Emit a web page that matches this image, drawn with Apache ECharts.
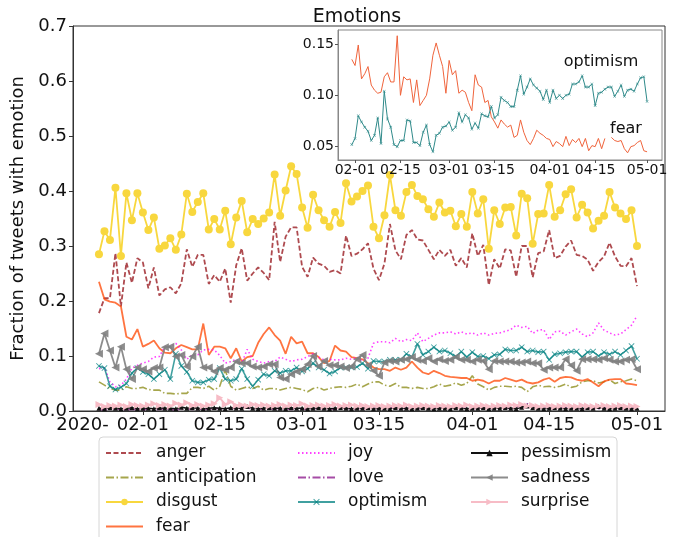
<!DOCTYPE html>
<html>
<head>
<meta charset="utf-8">
<script src="https://cdn.jsdelivr.net/npm/echarts@6/dist/echarts.min.js"></script>
<style>
html,body{margin:0;padding:0;background:#fff;}
#chart{width:678px;height:537px;}
</style>
</head>
<body>
<div id="chart"></div>
<script>
// Main chart: daily values from 2020-01-24 (day-of-year 23) to 2020-05-01
const mainStartDay = 23;
// Inset: daily values from 2020-01-31 (day-of-year 30) to 2020-05-01
const insetStartDay = 30;

const tickDays = [31, 45, 60, 74, 91, 105, 121];
const tickLabels = ['02-01', '02-15', '03-01', '03-15', '04-01', '04-15', '05-01'];
const offsetLabelDay = 20;
const offsetLabel = '2020-';

const anger = [0.178,0.205,0.205,0.287,0.190,0.270,0.233,0.278,0.270,0.223,
0.261,0.210,0.221,0.225,0.214,0.232,0.294,0.262,0.284,0.284,
0.231,0.247,0.235,0.259,0.197,0.265,0.296,0.237,0.250,0.261,
0.251,0.238,0.344,0.271,0.317,0.334,0.334,0.262,0.244,0.279,
0.268,0.264,0.253,0.256,0.250,0.319,0.282,0.286,0.294,0.305,
0.259,0.238,0.268,0.340,0.292,0.276,0.320,0.329,0.312,0.310,
0.293,0.276,0.293,0.282,0.293,0.264,0.278,0.261,0.323,0.282,
0.302,0.229,0.276,0.259,0.294,0.292,0.244,0.300,0.300,0.243,
0.287,0.290,0.329,0.278,0.282,0.299,0.310,0.284,0.282,0.275,
0.255,0.271,0.281,0.306,0.281,0.264,0.263,0.278,0.227];

const anticipation = [0.053,0.047,0.041,0.038,0.038,0.044,0.041,0.041,0.043,0.039,
0.038,0.038,0.032,0.032,0.031,0.032,0.032,0.043,0.043,0.041,
0.045,0.038,0.045,0.074,0.045,0.038,0.041,0.044,0.041,0.045,
0.038,0.041,0.041,0.038,0.041,0.043,0.041,0.039,0.035,0.041,
0.043,0.038,0.041,0.043,0.044,0.043,0.045,0.049,0.044,0.049,
0.053,0.053,0.047,0.045,0.050,0.043,0.043,0.041,0.043,0.041,
0.041,0.044,0.049,0.045,0.047,0.051,0.047,0.050,0.064,0.049,
0.044,0.038,0.043,0.045,0.045,0.044,0.045,0.043,0.035,0.044,
0.047,0.044,0.045,0.043,0.045,0.049,0.043,0.045,0.053,0.055,
0.055,0.051,0.053,0.057,0.050,0.053,0.055,0.058,0.055];

const disgust = [0.285,0.327,0.311,0.406,0.282,0.396,0.347,0.396,0.361,0.329,
0.352,0.295,0.301,0.314,0.293,0.321,0.395,0.362,0.380,0.396,
0.330,0.349,0.330,0.364,0.303,0.352,0.382,0.325,0.349,0.340,
0.350,0.361,0.430,0.355,0.401,0.445,0.431,0.370,0.333,0.393,
0.365,0.347,0.335,0.362,0.342,0.414,0.381,0.390,0.400,0.410,
0.335,0.314,0.356,0.429,0.365,0.355,0.398,0.411,0.391,0.385,
0.367,0.353,0.379,0.361,0.364,0.336,0.358,0.335,0.398,0.359,
0.385,0.295,0.365,0.340,0.370,0.371,0.319,0.395,0.387,0.304,
0.358,0.359,0.411,0.353,0.365,0.394,0.403,0.352,0.375,0.361,
0.332,0.346,0.355,0.398,0.370,0.359,0.349,0.365,0.300];

const fear = [0.235,0.203,0.199,0.197,0.190,0.135,0.130,0.149,0.117,0.122,
0.128,0.114,0.106,0.105,0.114,0.120,0.116,0.112,0.112,0.159,
0.102,0.117,0.117,0.114,0.096,0.114,0.090,0.098,0.100,0.124,
0.140,0.152,0.138,0.128,0.104,0.135,0.123,0.126,0.105,0.105,
0.098,0.087,0.091,0.119,0.110,0.108,0.098,0.096,0.094,0.087,
0.079,0.076,0.076,0.073,0.079,0.075,0.079,0.090,0.079,0.070,
0.067,0.073,0.069,0.064,0.062,0.061,0.060,0.060,0.055,0.057,
0.055,0.050,0.055,0.055,0.060,0.057,0.054,0.057,0.052,0.050,
0.052,0.057,0.060,0.053,0.060,0.062,0.061,0.057,0.055,0.058,
0.052,0.045,0.054,0.057,0.058,0.058,0.050,0.049,0.047];

const joy = [0.077,0.079,0.053,0.044,0.047,0.058,0.078,0.083,0.087,0.090,
0.098,0.099,0.117,0.117,0.123,0.111,0.094,0.102,0.102,0.111,
0.112,0.111,0.101,0.087,0.090,0.094,0.087,0.112,0.094,0.090,
0.087,0.090,0.090,0.098,0.094,0.090,0.093,0.094,0.099,0.104,
0.098,0.093,0.094,0.093,0.093,0.096,0.094,0.098,0.091,0.096,
0.123,0.126,0.126,0.124,0.132,0.126,0.130,0.128,0.142,0.126,
0.132,0.138,0.142,0.142,0.144,0.140,0.144,0.140,0.142,0.138,
0.142,0.138,0.141,0.142,0.145,0.148,0.156,0.152,0.154,0.141,
0.147,0.148,0.130,0.144,0.145,0.138,0.144,0.149,0.140,0.135,
0.142,0.160,0.147,0.142,0.138,0.140,0.148,0.156,0.173];

const love = [0.003,0.002,0.003,0.004,0.003,0.002,0.003,0.003,0.002,0.004,
0.003,0.003,0.004,0.003,0.002,0.003,0.004,0.003,0.003,0.004,
0.003,0.005,0.004,0.003,0.004,0.005,0.009,0.005,0.004,0.003,
0.004,0.003,0.004,0.005,0.004,0.003,0.004,0.004,0.003,0.004,
0.005,0.004,0.004,0.003,0.004,0.005,0.004,0.004,0.005,0.004,
0.005,0.004,0.005,0.006,0.005,0.004,0.005,0.005,0.004,0.005,
0.004,0.005,0.006,0.005,0.005,0.004,0.005,0.005,0.004,0.005,
0.005,0.004,0.005,0.006,0.005,0.005,0.007,0.010,0.013,0.009,
0.006,0.005,0.005,0.004,0.005,0.006,0.005,0.005,0.004,0.005,
0.005,0.004,0.005,0.006,0.005,0.005,0.004,0.005,0.005];

const optimism = [0.082,0.078,0.045,0.039,0.043,0.050,0.069,0.078,0.071,0.067,
0.058,0.067,0.075,0.058,0.104,0.082,0.071,0.055,0.052,0.052,
0.057,0.058,0.078,0.058,0.055,0.058,0.077,0.058,0.045,0.057,
0.067,0.064,0.073,0.069,0.073,0.073,0.079,0.072,0.077,0.087,
0.079,0.075,0.068,0.072,0.079,0.079,0.079,0.080,0.087,0.077,
0.091,0.090,0.090,0.093,0.093,0.093,0.104,0.098,0.122,0.102,
0.108,0.116,0.108,0.110,0.105,0.099,0.108,0.098,0.107,0.099,
0.100,0.095,0.102,0.103,0.112,0.110,0.110,0.116,0.108,0.110,
0.107,0.108,0.093,0.103,0.105,0.107,0.108,0.108,0.098,0.107,
0.108,0.100,0.107,0.103,0.108,0.102,0.110,0.118,0.095];

const pessimism = [0.005,0.004,0.006,0.005,0.004,0.005,0.006,0.004,0.005,0.005,
0.004,0.006,0.005,0.005,0.004,0.007,0.005,0.006,0.005,0.004,
0.005,0.006,0.005,0.004,0.006,0.005,0.005,0.008,0.005,0.004,
0.005,0.006,0.005,0.005,0.004,0.006,0.005,0.005,0.004,0.005,
0.006,0.005,0.004,0.005,0.006,0.005,0.004,0.005,0.005,0.006,
0.004,0.005,0.005,0.004,0.006,0.005,0.005,0.004,0.005,0.006,
0.005,0.004,0.005,0.005,0.004,0.006,0.005,0.004,0.005,0.005,
0.006,0.004,0.005,0.005,0.006,0.005,0.004,0.007,0.009,0.006,
0.005,0.004,0.005,0.006,0.005,0.004,0.005,0.005,0.004,0.006,
0.005,0.008,0.005,0.004,0.005,0.006,0.005,0.004,0.005];

const sadness = [0.104,0.141,0.110,0.079,0.117,0.076,0.058,0.079,0.076,0.072,
0.078,0.079,0.116,0.117,0.099,0.102,0.081,0.099,0.117,0.079,
0.079,0.072,0.078,0.075,0.079,0.090,0.087,0.087,0.081,0.079,
0.081,0.085,0.085,0.061,0.058,0.067,0.072,0.076,0.085,0.100,
0.081,0.091,0.083,0.083,0.081,0.078,0.081,0.094,0.102,0.083,
0.073,0.064,0.088,0.091,0.090,0.093,0.094,0.098,0.093,0.091,
0.096,0.090,0.094,0.091,0.093,0.098,0.093,0.093,0.090,0.093,
0.091,0.076,0.091,0.090,0.090,0.090,0.088,0.088,0.090,0.087,
0.087,0.075,0.079,0.079,0.079,0.094,0.083,0.073,0.094,0.094,
0.094,0.093,0.096,0.093,0.090,0.090,0.093,0.094,0.076];

const surprise = [0.012,0.008,0.010,0.009,0.011,0.008,0.012,0.010,0.009,0.011,
0.013,0.010,0.012,0.009,0.014,0.011,0.015,0.010,0.012,0.009,
0.011,0.013,0.024,0.012,0.017,0.010,0.011,0.009,0.012,0.010,
0.011,0.009,0.010,0.012,0.009,0.011,0.010,0.013,0.009,0.010,
0.011,0.009,0.010,0.012,0.009,0.010,0.011,0.009,0.010,0.008,
0.009,0.010,0.008,0.009,0.010,0.009,0.011,0.008,0.009,0.010,
0.009,0.008,0.010,0.009,0.008,0.010,0.009,0.011,0.008,0.009,
0.010,0.008,0.009,0.010,0.009,0.011,0.010,0.012,0.009,0.010,
0.008,0.009,0.010,0.008,0.009,0.010,0.009,0.008,0.010,0.009,
0.008,0.009,0.010,0.008,0.009,0.010,0.008,0.009,0.008];

const insetFear = [0.135,0.129,0.149,0.116,0.121,0.128,0.110,0.105,0.102,0.103,
0.118,0.122,0.113,0.113,0.158,0.100,0.118,0.115,0.116,0.093,
0.115,0.090,0.095,0.100,0.116,0.139,0.151,0.139,0.128,0.102,
0.134,0.120,0.124,0.102,0.105,0.103,0.093,0.085,0.120,0.110,
0.108,0.093,0.095,0.079,0.074,0.068,0.076,0.072,0.069,0.071,
0.059,0.061,0.076,0.064,0.056,0.052,0.058,0.066,0.063,0.061,
0.058,0.057,0.050,0.055,0.053,0.050,0.060,0.051,0.057,0.054,
0.058,0.050,0.058,0.046,0.051,0.050,0.058,0.048,0.058,null,
0.059,0.056,0.055,0.056,0.048,0.044,0.050,0.051,0.054,0.056,
0.046,0.045];

const insetOptimism = [0.052,0.058,0.080,0.074,0.069,0.065,0.056,0.061,0.078,0.053,
0.104,0.077,0.069,0.052,0.050,0.056,0.056,0.076,0.075,0.054,
0.054,0.051,0.064,0.071,0.052,0.045,0.061,0.063,0.069,0.070,
0.074,0.066,0.069,0.083,0.074,0.081,0.078,0.067,0.073,0.068,
0.082,0.080,0.079,0.089,0.078,0.081,0.098,0.095,0.093,0.089,
0.089,0.105,0.119,0.101,0.108,0.116,0.110,0.107,0.104,0.096,
0.105,0.093,0.105,0.097,0.100,0.097,0.100,0.101,0.111,0.111,
0.113,0.119,0.108,0.108,0.111,0.090,0.102,0.103,0.106,0.108,
0.108,0.099,0.104,0.110,0.099,0.105,0.106,0.104,0.111,0.117,
0.118,0.094];

const insetYTicks = [0.05, 0.10, 0.15];

const legendCol1 = ['anger', 'anticipation', 'disgust', 'fear'];
const legendCol2 = ['joy', 'love', 'optimism'];
const legendCol3 = ['pessimism', 'sadness', 'surprise'];
const lineOnly = ['anger', 'anticipation', 'fear', 'joy', 'love'];

const FONT = 'DejaVu Sans';
const XMARK = 'path://M1,0L5,4L9,0L10,1L6,5L10,9L9,10L5,6L1,10L0,9L4,5L0,1Z';

function toXY(vals, start) { return vals.map((v, i) => [start + i, v]); }

const chart = echarts.init(document.getElementById('chart'), null, {renderer: 'canvas'});

function mainSeries(name, vals, color, opts) {
  return Object.assign({
    name: name, type: 'line', xAxisIndex: 0, yAxisIndex: 0,
    data: toXY(vals, mainStartDay),
    symbol: 'none', z: 2,
    lineStyle: {color: color, width: 1.8},
    itemStyle: {color: color},
    emphasis: {disabled: true}
  }, opts || {});
}

const labelMap = {};
tickDays.forEach((d, i) => { labelMap[d] = tickLabels[i]; });
labelMap[offsetLabelDay] = offsetLabel;

function legendCol(names, left) {
  return {
    orient: 'horizontal', left: left, top: 443, width: 50, padding: 0,
    itemWidth: 37, itemHeight: 8, itemGap: 4.5,
    textStyle: {fontSize: 17, color: '#111', lineHeight: 20, padding: [0, 0, 0, 8]},
    data: names.map(n => lineOnly.indexOf(n) >= 0 ? {name: n, itemStyle: {opacity: 0}} : {name: n}),
    z: 20
  };
}

const option = {
  animation: false,
  backgroundColor: '#fff',
  textStyle: {fontFamily: FONT},
  grid: [
    {left: 73, right: 13, top: 26, bottom: 126, show: true, borderColor: '#333', borderWidth: 1, backgroundColor: 'transparent', z: 0},
    {left: 338, right: 16, top: 30, bottom: 377, show: true, borderColor: '#888', borderWidth: 1, backgroundColor: '#fff', z: 5}
  ],
  xAxis: [
    {type: 'value', gridIndex: 0, min: 18.27, max: 126.1,
     splitLine: {show: false},
     axisLine: {onZero: false, lineStyle: {color: '#333'}},
     axisTick: {show: true, length: 4, lineStyle: {color: '#333'}, customValues: tickDays},
     axisLabel: {customValues: [offsetLabelDay].concat(tickDays), color: '#111', fontSize: 18, margin: 5,
                 formatter: v => labelMap[Math.round(v)] || ''}},
    {type: 'value', gridIndex: 1, min: 25.75, max: 125.6, z: 6,
     splitLine: {show: false},
     axisLine: {onZero: false, lineStyle: {color: '#888'}},
     axisTick: {show: true, length: 3, lineStyle: {color: '#555'}, customValues: tickDays},
     axisLabel: {customValues: tickDays, color: '#111', fontSize: 14, margin: 3,
                 formatter: v => labelMap[Math.round(v)] || ''}}
  ],
  yAxis: [
    {type: 'value', gridIndex: 0, min: 0, max: 0.7, interval: 0.1,
     name: 'Fraction of tweets with emotion', nameLocation: 'middle', nameGap: 44,
     nameTextStyle: {fontSize: 18, color: '#111', fontFamily: FONT},
     splitLine: {show: false},
     axisLine: {show: true, lineStyle: {color: '#333'}},
     axisTick: {show: true, length: 4, lineStyle: {color: '#333'}},
     axisLabel: {color: '#111', fontSize: 18, margin: 6, formatter: v => v.toFixed(1)}},
    {type: 'value', gridIndex: 1, min: 0.037, max: 0.1636, z: 6,
     splitLine: {show: false},
     axisLine: {show: true, lineStyle: {color: '#888'}},
     axisTick: {show: true, length: 3, lineStyle: {color: '#555'}, customValues: insetYTicks},
     axisLabel: {customValues: insetYTicks, color: '#111', fontSize: 14, margin: 4, formatter: v => v.toFixed(2)}}
  ],
  legend: [legendCol(legendCol1, 105), legendCol(legendCol2, 297), legendCol(legendCol3, 470)],
  graphic: [
    {type: 'rect', shape: {x: 99, y: 437, width: 518, height: 130, r: 4}, style: {fill: '#fff', stroke: '#d6d6d6', lineWidth: 1}, z: 10},
    {type: 'text', x: 357, y: 17, style: {text: 'Emotions', font: '19px "DejaVu Sans"', fill: '#111', textAlign: 'center', textVerticalAlign: 'middle'}, z: 20},
    {type: 'text', x: 601, y: 62, style: {text: 'optimism', font: '16px "DejaVu Sans"', fill: '#111', textAlign: 'center', textVerticalAlign: 'middle'}, z: 20},
    {type: 'text', x: 626, y: 129, style: {text: 'fear', font: '16px "DejaVu Sans"', fill: '#111', textAlign: 'center', textVerticalAlign: 'middle'}, z: 20}
  ],
  series: [
    mainSeries('anger', anger, 'rgba(160,42,48,0.85)', {lineStyle: {color: 'rgba(160,42,48,0.85)', width: 1.8, type: [5, 2.5]}}),
    mainSeries('anticipation', anticipation, 'rgba(128,128,0,0.7)', {lineStyle: {color: 'rgba(128,128,0,0.7)', width: 1.6, type: [8, 2.5, 1.5, 2.5]}}),
    mainSeries('disgust', disgust, '#f8d73e', {symbol: 'circle', symbolSize: 8, showSymbol: true,
      lineStyle: {color: '#f8d73e', width: 1.8}, itemStyle: {color: '#f8d73e'}}),
    mainSeries('fear', fear, 'rgba(255,69,0,0.75)', {lineStyle: {color: 'rgba(255,69,0,0.75)', width: 1.8}}),
    mainSeries('joy', joy, 'rgba(255,0,255,0.75)', {lineStyle: {color: 'rgba(255,0,255,0.75)', width: 1.6, type: [1.5, 2.5]}}),
    mainSeries('love', love, 'rgba(128,0,128,0.7)', {lineStyle: {color: 'rgba(128,0,128,0.7)', width: 1.6, type: [8, 2.5, 1.5, 2.5]}}),
    mainSeries('optimism', optimism, 'rgba(0,128,128,0.75)', {symbol: XMARK, symbolSize: 6, showSymbol: true,
      lineStyle: {color: 'rgba(0,128,128,0.75)', width: 1.6}, itemStyle: {color: 'rgba(0,128,128,0.75)'}}),
    mainSeries('pessimism', pessimism, '#111', {symbol: 'triangle', symbolSize: 5, showSymbol: true,
      lineStyle: {color: '#111', width: 1.6}, itemStyle: {color: '#111'}}),
    mainSeries('sadness', sadness, 'rgba(128,128,128,0.9)', {symbol: 'triangle', symbolRotate: 90, symbolSize: 8, showSymbol: true,
      lineStyle: {color: 'rgba(128,128,128,0.9)', width: 1.8}, itemStyle: {color: 'rgba(128,128,128,0.9)'}}),
    mainSeries('surprise', surprise, '#f7bcc6', {symbol: 'triangle', symbolRotate: -90, symbolSize: 7, showSymbol: true,
      lineStyle: {color: '#f7bcc6', width: 1.8}, itemStyle: {color: '#f7bcc6'}}),
    {name: 'insetFear', type: 'line', xAxisIndex: 1, yAxisIndex: 1, data: toXY(insetFear, insetStartDay),
     symbol: 'none', z: 7, connectNulls: false, lineStyle: {color: '#f0643c', width: 1}, itemStyle: {color: '#f0643c'}, emphasis: {disabled: true}},
    {name: 'insetOptimism', type: 'line', xAxisIndex: 1, yAxisIndex: 1, data: toXY(insetOptimism, insetStartDay),
     symbol: XMARK, symbolSize: 3, showSymbol: true, z: 7, lineStyle: {color: '#2f8a8a', width: 1}, itemStyle: {color: '#2f8a8a'}, emphasis: {disabled: true}}
  ]
};
chart.setOption(option);
</script>
</body>
</html>
